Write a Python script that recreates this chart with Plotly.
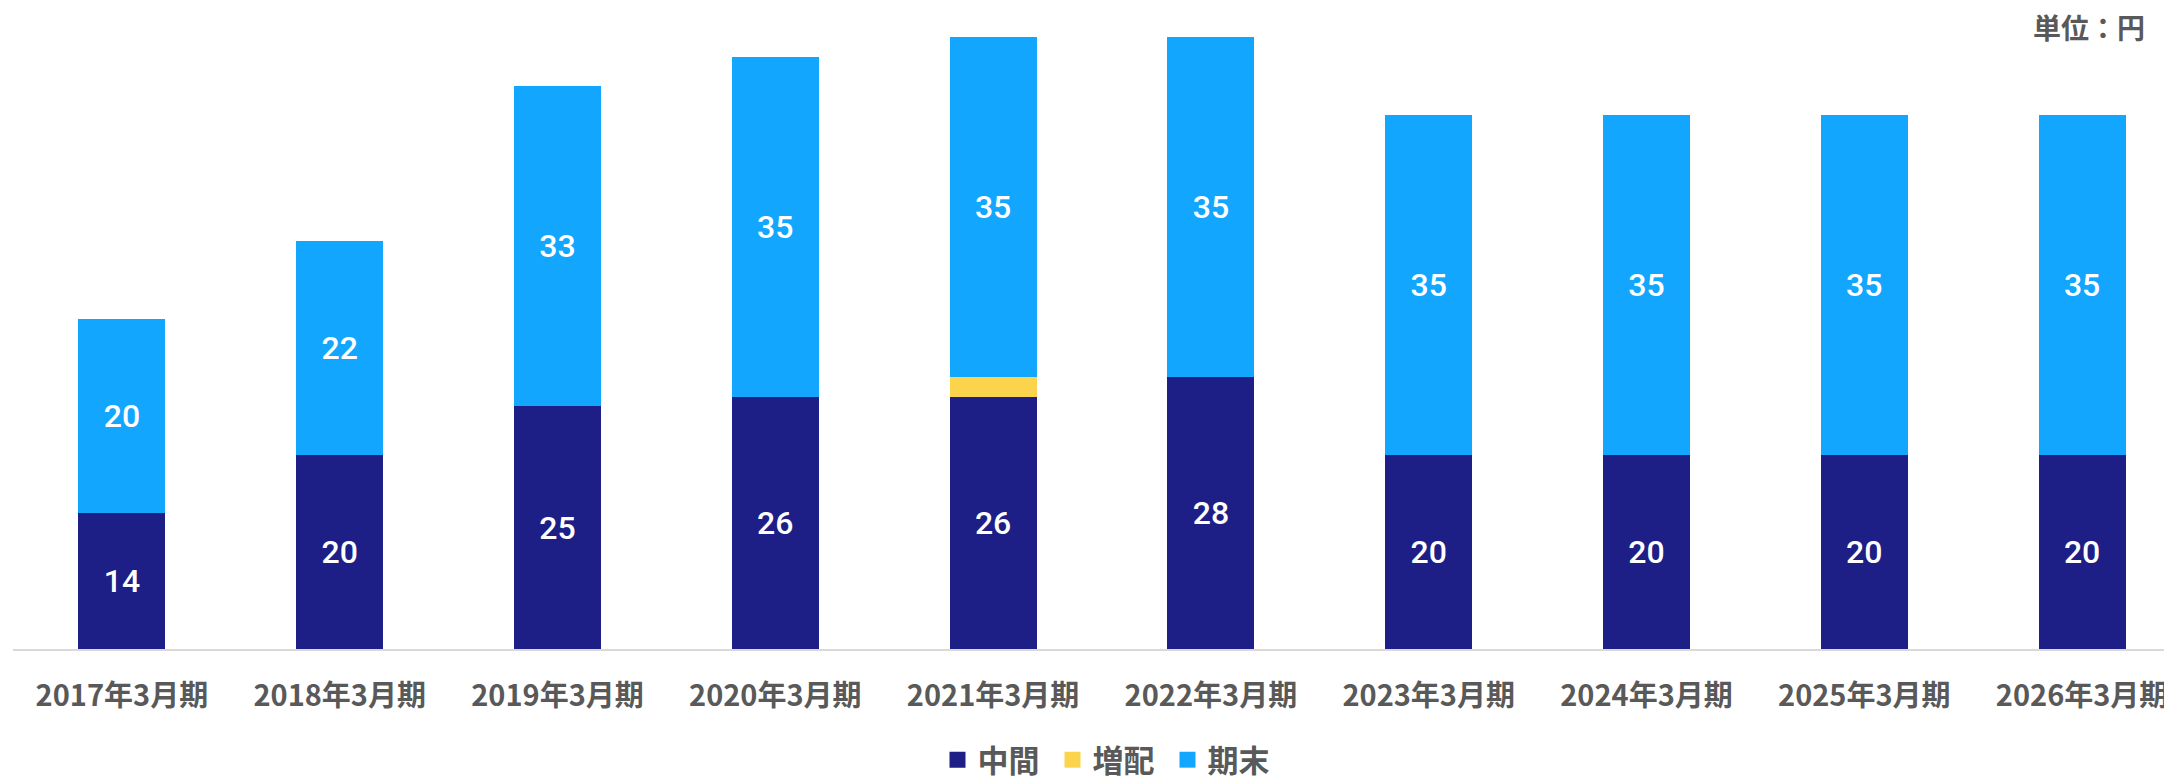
import plotly.graph_objects as go

categories = ["2017年3月期", "2018年3月期", "2019年3月期", "2020年3月期", "2021年3月期",
              "2022年3月期", "2023年3月期", "2024年3月期", "2025年3月期", "2026年3月期"]
interim = [14, 20, 25, 26, 26, 28, 20, 20, 20, 20]
increase = [0, 0, 0, 0, 2, 0, 0, 0, 0, 0]
year_end = [20, 22, 33, 35, 35, 35, 35, 35, 35, 35]

C_INTERIM = "#1D1F87"
C_INCREASE = "#FCD34D"
C_END = "#13A6FF"
GREY = "#595959"

W, H = 2172, 778
OFF = 8  # page body margin offset
BASE = 649 - OFF  # baseline in figure coords
ML, MR, MT, MB = 13 - OFF, 0, 0, H - BASE

idx = list(range(len(categories)))
label_font = dict(family="Roboto, Noto Sans, sans-serif", size=32, color="white", weight=500)

fig = go.Figure()
fig.add_trace(go.Bar(x=idx, y=interim, name="中間", marker=dict(color=C_INTERIM, line=dict(width=0)),
                     text=[str(v) for v in interim], textposition="inside", insidetextanchor="middle",
                     textangle=0, constraintext="none", insidetextfont=label_font, showlegend=False))
fig.add_trace(go.Bar(x=idx, y=increase, name="増配", marker=dict(color=C_INCREASE, line=dict(width=0)),
                     textposition="none", showlegend=False))
fig.add_trace(go.Bar(x=idx, y=year_end, name="期末", marker=dict(color=C_END, line=dict(width=0)),
                     text=[str(v) for v in year_end], textposition="inside", insidetextanchor="middle",
                     textangle=0, constraintext="none", insidetextfont=label_font, showlegend=False))

# legend entries
for name, col in [("中間", C_INTERIM), ("増配", C_INCREASE), ("期末", C_END)]:
    fig.add_trace(go.Scatter(x=[None], y=[None], mode="markers", name=name,
                             marker=dict(symbol="square", size=16, color=col), showlegend=True))

plot_h = H - MT - MB
px_per_unit = 9.71
yr = plot_h / px_per_unit

cat_px = 217.8
plot_w = W - ML - MR
x_right = -0.5 + plot_w / cat_px

fig.update_layout(
    width=W, height=H,
    margin=dict(l=ML, r=MR, t=MT, b=MB, autoexpand=False),
    paper_bgcolor="white", plot_bgcolor="white",
    barmode="stack", bargap=0.6,
    font=dict(family="Noto Sans CJK JP, sans-serif", color=GREY),
    xaxis=dict(tickmode="array", tickvals=idx, ticktext=categories, range=[-0.5, x_right],
               showgrid=False, zeroline=False, showline=True, linecolor="#D9D9D9", linewidth=2,
               ticks="", tickfont=dict(family="Noto Sans CJK JP", size=29, color=GREY, weight="bold"),
               ticklabelstandoff=20, automargin=False, fixedrange=True),
    yaxis=dict(range=[0, yr], visible=False, showgrid=False, zeroline=False, automargin=False, fixedrange=True),
    legend=dict(orientation="h", x=(1110 - OFF - ML) / plot_w, xanchor="center", yref="container",
                y=1 - (760 - OFF) / H, yanchor="middle",
                font=dict(family="Noto Sans CJK JP", size=31, color=GREY, weight="bold"),
                itemwidth=30, entrywidth=70, entrywidthmode="pixels",
                tracegroupgap=0, traceorder="normal"),
    annotations=[dict(text="単位：円", xref="paper", yref="paper", x=(2147 - OFF - ML) / plot_w,
                      y=(BASE - (27 - OFF)) / plot_h,
                      xanchor="right", yanchor="middle", showarrow=False,
                      font=dict(family="Noto Sans CJK JP", size=28, color=GREY, weight="bold"))],
)

fig.write_html("out.html")
